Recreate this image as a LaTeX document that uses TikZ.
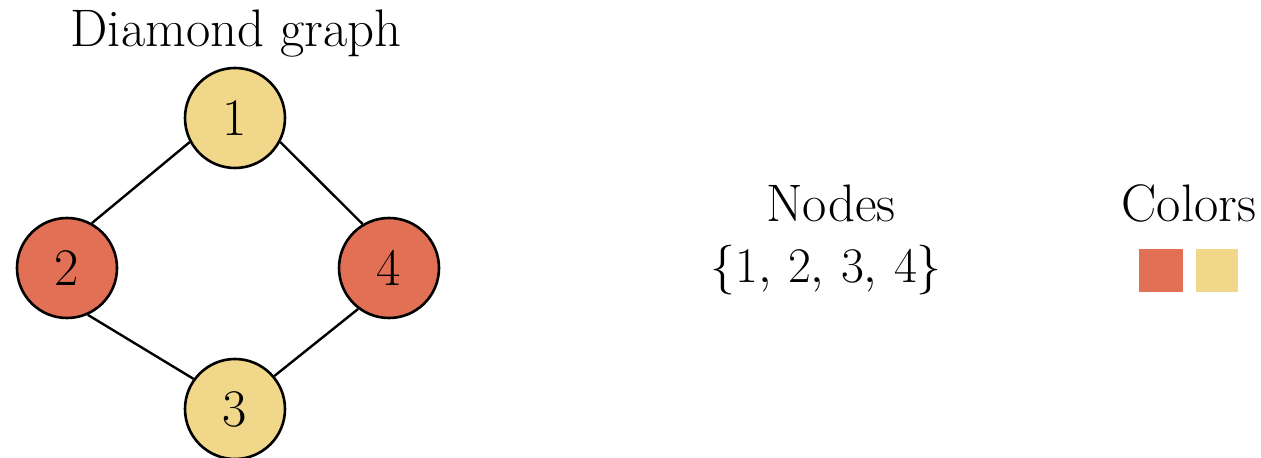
\documentclass[tikz,border=0pt]{standalone}
\begin{document}
\begin{tikzpicture}[x=0.5pt,y=-0.5pt,
  every node/.style={font=\fontsize{26.4}{32}\selectfont},
  vtx/.style={circle,draw=black,line width=1.3pt,minimum size=50pt,inner sep=0pt},
  edge/.style={draw=black,line width=1.2pt},
  lbl/.style={anchor=base}]
\definecolor{cred}{RGB}{225,112,85}
\definecolor{cyel}{RGB}{240,215,138}
\useasboundingbox (0,0) rectangle (1261,458);
\node[lbl] (title) at (236,47) {Diamond graph};
\node[vtx,fill=cyel] (n1) at (235,118) {1};
\node[vtx,fill=cred] (n2) at (67,268) {2};
\node[vtx,fill=cred] (n4) at (389,268) {4};
\node[vtx,fill=cyel] (n3) at (235,409) {3};
\draw[edge] (n1.208) -- (n2.61);
\draw[edge] (n1.332) -- (n4.121);
\draw[edge] (n2.294) -- (n3.144);
\draw[edge] (n4.233) -- (n3.40);
\node[lbl] (nodes) at (831,222) {Nodes};
\node[lbl] (set) at (826,283) {$\{1,\,2,\,3,\,4\}$};
\node[lbl] (colors) at (1189,222) {Colors};
\fill[cred] (1139,249) rectangle (1183,292);
\fill[cyel] (1196,249) rectangle (1238,292);
\end{tikzpicture}
\end{document}
